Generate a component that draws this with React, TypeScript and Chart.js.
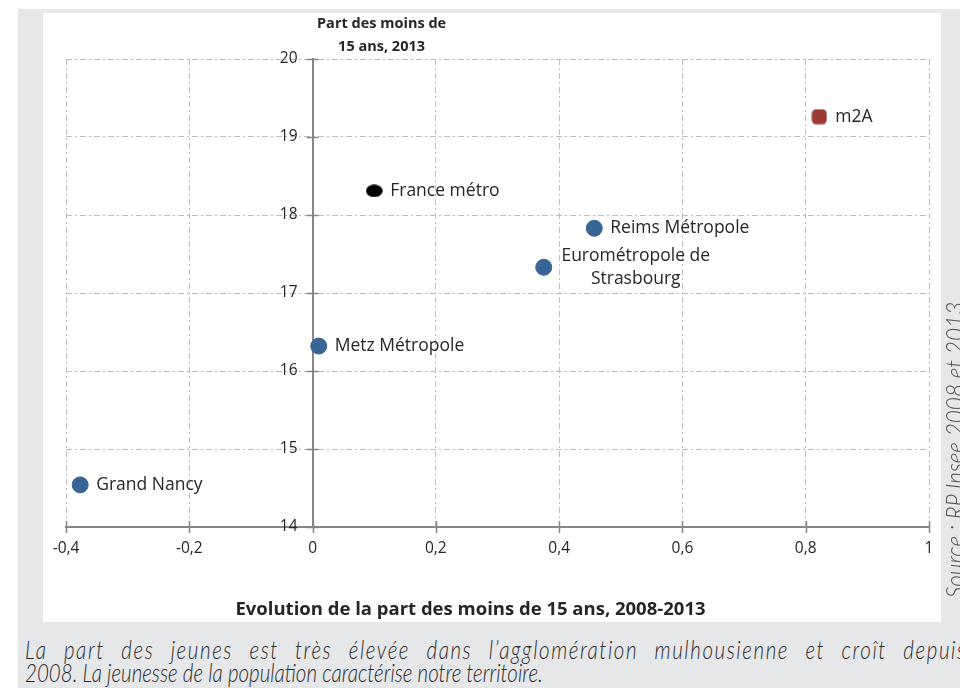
import React, { useEffect, useRef } from 'react';
import { Chart, registerables } from 'chart.js';

Chart.register(...registerables);

// ---- Data ----
const territoireLabels: string[][] = [
  ['Grand Nancy'],
  ['Metz Métropole'],
  ['Eurométropole de', 'Strasbourg'],
  ['Reims Métropole'],
];
const territoireEvolution = [-0.377, 0.01, 0.375, 0.457];
const territoirePart = [14.54, 16.32, 17.33, 17.83];

const franceLabels: string[][] = [['France métro']];
const franceEvolution = [0.1];
const francePart = [18.31];

const m2aLabels: string[][] = [['m2A']];
const m2aEvolution = [0.822];
const m2aPart = [19.26];

const xMin = -0.4;
const xMax = 1;
const xStep = 0.2;
const yMin = 14;
const yMax = 20;
const yStep = 1;

const xTitle = 'Evolution de la part des moins de 15 ans, 2008-2013';
const yTitleLines = ['Part des moins de', '15 ans, 2013'];
const captionLines = [
  'La part des jeunes est très élevée dans l’agglomération mulhousienne et croît depuis',
  '2008. La jeunesse de la population caractérise notre territoire.',
];
const sourceText = 'Source : RP Insee 2008 et 2013';

const FONT = '"Open Sans", "DejaVu Sans", sans-serif';
const TEXT = '#262626';

const fmt = (v: number) => String(Math.round(v * 10) / 10).replace('.', ',');

function makeEllipse(): HTMLCanvasElement {
  const c = document.createElement('canvas');
  c.width = 17;
  c.height = 13;
  const ctx = c.getContext('2d')!;
  ctx.fillStyle = '#000000';
  ctx.beginPath();
  ctx.ellipse(8.5, 6.5, 8.3, 6.3, 0, 0, Math.PI * 2);
  ctx.fill();
  return c;
}

function makeRoundedSquare(): HTMLCanvasElement {
  const c = document.createElement('canvas');
  c.width = 16;
  c.height = 16;
  const ctx = c.getContext('2d')!;
  ctx.fillStyle = '#9c3a37';
  ctx.beginPath();
  (ctx as any).roundRect(0.5, 0.5, 15, 15, 4.5);
  ctx.fill();
  return c;
}

const labelPlugin = {
  id: 'pointLabels',
  afterDatasetsDraw(chart: any) {
    const ctx = chart.ctx;
    ctx.save();
    ctx.font = `17.5px ${FONT}`;
    ctx.fillStyle = TEXT;
    chart.data.datasets.forEach((ds: any, di: number) => {
      const meta = chart.getDatasetMeta(di);
      meta.data.forEach((el: any, i: number) => {
        const lines: string[] = ds.pointLabelLines[i];
        if (lines.length === 1) {
          ctx.textAlign = 'left';
          ctx.textBaseline = 'middle';
          ctx.fillText(lines[0], el.x + 16, el.y);
        } else {
          ctx.textAlign = 'center';
          ctx.textBaseline = 'middle';
          ctx.fillText(lines[0], el.x + 92, el.y - 11);
          ctx.fillText(lines[1], el.x + 92, el.y + 12);
        }
      });
    });
    ctx.restore();
  },
};

const axisDecorPlugin = {
  id: 'axisDecor',
  afterDraw(chart: any) {
    const ctx = chart.ctx;
    const xs = chart.scales.x;
    const ys = chart.scales.y;
    const x0 = xs.getPixelForValue(0);
    const yBase = ys.getPixelForValue(yMin);
    ctx.save();
    ctx.strokeStyle = '#868686';
    ctx.lineWidth = 1.5;
    ctx.beginPath();
    ys.ticks.forEach((t: any) => {
      const py = Math.round(ys.getPixelForValue(t.value)) + 0.5;
      ctx.moveTo(x0 - 6, py);
      ctx.lineTo(x0 + 6, py);
    });
    xs.ticks.forEach((t: any) => {
      const px = Math.round(xs.getPixelForValue(t.value)) + 0.5;
      ctx.moveTo(px, yBase - 6);
      ctx.lineTo(px, yBase + 6);
    });
    ctx.stroke();

    // tick labels
    ctx.fillStyle = TEXT;
    ctx.font = `15.5px ${FONT}`;
    ctx.textAlign = 'right';
    ctx.textBaseline = 'middle';
    ys.ticks.forEach((t: any) => {
      ctx.fillText(fmt(t.value), x0 - 15, ys.getPixelForValue(t.value));
    });
    ctx.textAlign = 'center';
    xs.ticks.forEach((t: any) => {
      ctx.fillText(fmt(t.value), xs.getPixelForValue(t.value), yBase + 22);
    });

    // axis titles
    ctx.font = `bold 18.5px ${FONT}`;
    ctx.fillText(xTitle, (xs.left + xs.right) / 2 - 27, yBase + 83);
    ctx.font = `bold 14.5px ${FONT}`;
    ctx.fillText(yTitleLines[0], x0 + 69, 11);
    ctx.fillText(yTitleLines[1], x0 + 69, 34);
    ctx.restore();
  },
};

export default function App() {
  const canvasRef = useRef<HTMLCanvasElement>(null);

  useEffect(() => {
    const canvas = canvasRef.current!;
    const gridDash = [6, 3, 2, 3];
    const chart = new Chart(canvas, {
      type: 'scatter',
      data: {
        datasets: [
          {
            label: 'Territoires',
            data: territoireEvolution.map((x, i) => ({ x, y: territoirePart[i] })),
            backgroundColor: '#386596',
            borderColor: '#386596',
            pointRadius: 8,
            pointHoverRadius: 8,
            pointStyle: 'circle',
            pointLabelLines: territoireLabels,
          } as any,
          {
            label: 'France métro',
            data: franceEvolution.map((x, i) => ({ x, y: francePart[i] })),
            pointStyle: makeEllipse(),
            pointRadius: 8,
            pointLabelLines: franceLabels,
          } as any,
          {
            label: 'm2A',
            data: m2aEvolution.map((x, i) => ({ x, y: m2aPart[i] })),
            pointStyle: makeRoundedSquare(),
            pointRadius: 8,
            pointLabelLines: m2aLabels,
          } as any,
        ],
      },
      options: {
        responsive: false,
        animation: false,
        layout: { padding: { left: 23, right: 12, top: 46, bottom: 95 } },
        plugins: {
          legend: { display: false },
          tooltip: { enabled: false },
          title: { display: false },
        },
        scales: {
          x: {
            type: 'linear',
            min: xMin,
            max: xMax,
            position: { y: yMin } as any,
            ticks: {
              stepSize: xStep,
              display: false,
            },
            grid: {
              color: '#bdbdbd',
              lineWidth: 1,
              drawTicks: false,
            },
            border: { display: true, color: '#868686', width: 2, dash: gridDash },
          },
          y: {
            type: 'linear',
            min: yMin,
            max: yMax,
            position: { x: 0 } as any,
            ticks: {
              stepSize: yStep,
              display: false,
            },
            grid: {
              color: '#bdbdbd',
              lineWidth: 1,
              drawTicks: false,
            },
            border: { display: true, color: '#868686', width: 2, dash: gridDash },
          },
        },
      },
      plugins: [labelPlugin, axisDecorPlugin],
    });
    return () => chart.destroy();
  }, []);

  const captionFont: React.CSSProperties = {
    fontFamily: 'Lato, "Open Sans", sans-serif',
    fontStyle: 'italic',
    fontWeight: 300,
    fontSize: 26,
    lineHeight: '23px',
    color: '#2b2b2b',
    whiteSpace: 'nowrap',
  };

  return (
    <div
      style={{
        position: 'absolute',
        left: 0,
        top: 0,
        width: 960,
        height: 688,
        overflow: 'hidden',
        background: '#ffffff',
      }}
    >
      <div style={{ position: 'absolute', left: 18, top: 9, width: 942, height: 679, background: '#e6e7e8' }} />
      <div style={{ position: 'absolute', left: 43, top: 13, width: 898, height: 609, background: '#ffffff' }}>
        <canvas ref={canvasRef} width={898} height={609} style={{ display: 'block', width: 898, height: 609 }} />
      </div>
      <div
        style={{
          position: 'absolute',
          left: 25,
          top: 638,
          width: 1192,
          transform: 'scaleX(0.79)',
          transformOrigin: 'left top',
        }}
      >
        <div
          style={{
            ...captionFont,
            whiteSpace: 'normal',
            letterSpacing: '2px',
            textAlign: 'justify',
            textAlignLast: 'justify' as any,
            height: 23,
          }}
        >
          {captionLines[0]}
        </div>
        <div style={captionFont}>{captionLines[1]}</div>
      </div>
      <div
        style={{
          position: 'absolute',
          left: 941,
          top: 598,
          whiteSpace: 'nowrap',
          fontFamily: 'Lato, "Open Sans", sans-serif',
          fontStyle: 'italic',
          fontWeight: 300,
          fontSize: 26,
          lineHeight: '26px',
          color: '#555555',
          transform: 'rotate(-90deg) scaleX(0.87)',
          transformOrigin: 'left top',
        }}
      >
        {sourceText}
      </div>
    </div>
  );
}
